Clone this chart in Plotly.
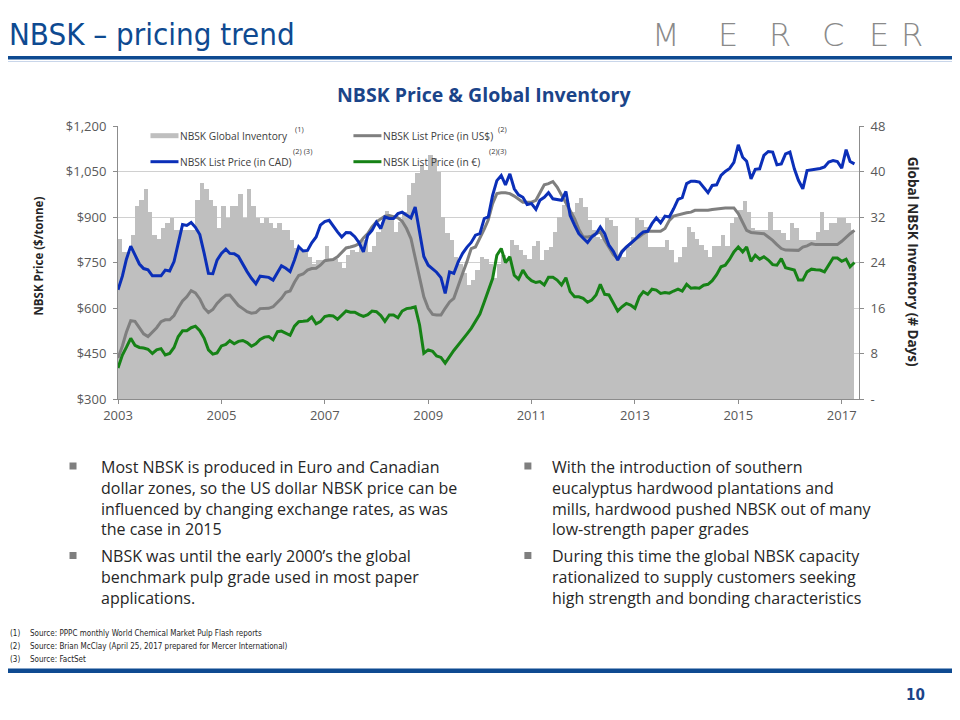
import plotly.graph_objects as go
import pandas as pd

# ---------------- data (monthly from Jan 2003) ----------------
start_month = "2003-01-01"

inventory_days = [
    28.1, 25.9, 25.9, 28.8, 33.9, 35.0, 36.9, 32.9, 28.8, 28.1, 30.0, 31.0,
    31.9, 29.8, 29.8, 29.8, 29.8, 29.8, 35.0, 37.9, 36.9, 35.0, 34.0, 30.0,
    33.9, 31.9, 33.9, 33.9, 36.0, 31.9, 36.9, 33.9, 31.9, 31.0, 31.9, 31.0,
    30.0, 30.9, 29.8, 29.8, 27.9, 26.5, 26.2, 25.9, 25.0, 23.8, 24.4, 24.4,
    26.9, 24.7, 24.7, 24.1, 23.0, 25.3, 26.2, 25.9, 27.9, 27.9, 25.9, 26.9,
    29.4, 31.2, 33.1, 31.5, 29.4, 31.2, 32.9, 35.9, 37.9, 39.7, 41.1, 40.2,
    42.9, 42.3, 40.0, 32.0, 29.2, 27.9, 25.0, 23.8, 22.1, 20.0, 20.9, 22.7,
    25.0, 24.7, 23.8, 21.2, 23.8, 25.3, 24.4, 27.9, 27.0, 26.2, 25.3, 24.7,
    26.9, 27.7, 24.4, 26.2, 26.8, 29.4, 32.0, 34.1, 34.4, 32.9, 34.4, 35.4,
    33.8, 31.5, 29.7, 28.5, 28.2, 31.8, 31.5, 30.4, 25.3, 24.9, 26.8, 28.5,
    31.9, 31.5, 30.3, 26.8, 26.7, 26.8, 26.7, 27.9, 26.2, 24.0, 25.0, 26.8,
    30.2, 29.4, 28.1, 27.1, 26.2, 24.9, 26.9, 26.9, 28.8, 26.9, 30.9, 32.0,
    33.2, 34.9, 32.9, 30.0, 29.7, 29.7, 29.7, 32.9, 29.7, 29.7, 29.1, 27.9,
    30.9, 30.0, 27.9, 27.9, 27.9, 27.9, 29.4, 32.9, 29.8, 30.9, 30.9, 31.8,
    31.8, 30.9, 29.7,
]

price_usd = [
    435, 475, 520, 558, 556, 535, 515, 506, 520, 535, 555, 561,
    561, 575, 600, 623, 637, 657, 650, 630, 600, 585, 595, 615,
    630, 642, 643, 625, 608, 598, 588, 583, 585, 598, 599, 599,
    604, 618, 632, 652, 656, 685, 707, 712, 725, 730, 731, 741,
    756, 758, 760, 769, 785, 798, 801, 805, 812, 831, 845, 867,
    884, 895, 903, 905, 900, 897, 886, 862, 829, 763, 697, 637,
    599, 579, 577, 577, 599, 620, 632, 670, 714, 752, 796, 801,
    829, 860, 890, 944, 977, 980, 980, 977, 969, 960, 949, 949,
    949, 955, 980, 1006, 1010, 1017, 999, 973, 950, 925, 895, 860,
    834, 834, 837, 845, 851, 823, 801, 776, 763, 787, 801, 812,
    827, 835, 845, 853, 853, 853, 853, 862, 889, 903, 907, 911,
    914, 916, 922, 922, 922, 922, 925, 927, 930, 930, 930, 930,
    911, 881, 856, 849, 848, 848, 845, 834, 823, 809, 796, 791,
    791, 790, 790, 801, 805, 812, 809, 809, 809, 809, 809, 809,
    820, 834, 845, 856,
]

price_cad = [
    660, 705, 760, 804, 775, 745, 730, 726, 706, 705, 706, 725,
    722, 753, 812, 875, 872, 882, 866, 842, 780, 714, 713, 758,
    780, 794, 780, 779, 770, 742, 720, 698, 680, 705, 702, 701,
    692, 716, 739, 731, 720, 758, 802, 788, 790, 815, 834, 873,
    885, 889, 870, 851, 834, 849, 848, 835, 815, 785, 840, 856,
    883, 862, 900, 895, 895, 911, 916, 905, 897, 933, 851, 770,
    741, 730, 718, 700, 648, 719, 714, 752, 780, 800, 816, 840,
    845, 895, 900, 971, 1020, 1037, 1006, 1042, 993, 973, 965, 941,
    944, 925, 955, 965, 980, 960, 957, 955, 984, 905, 873, 845,
    830, 816, 834, 845, 867, 845, 807, 787, 758, 785, 801, 812,
    825, 840, 851, 853, 878, 897, 881, 903, 900, 927, 958, 964,
    1010, 1018, 1018, 1015, 999, 980, 1004, 1006, 1037, 1050, 1060, 1080,
    1138, 1097, 1084, 1026, 1057, 1059, 1103, 1116, 1114, 1072, 1075, 1108,
    1114, 1059, 1021, 993, 1053, 1055, 1057, 1060, 1065, 1081, 1086, 1083,
    1061, 1122, 1083, 1075,
]

price_eur = [
    402, 445, 470, 500, 477, 470, 468, 464, 450, 462, 466, 445,
    450, 470, 505, 525, 525, 535, 540, 525, 500, 462, 448, 452,
    475, 480, 492, 482, 490, 493, 486, 474, 482, 496, 504, 506,
    495, 522, 524, 518, 510, 540, 555, 556, 558, 570, 548, 555,
    572, 575, 574, 563, 578, 590, 586, 586, 578, 572, 578, 590,
    588, 575, 556, 577, 577, 568, 590, 598, 600, 604, 544, 451,
    462, 457, 442, 437, 418, 440, 460, 478, 495, 514, 533, 555,
    580, 620, 655, 697, 774, 796, 750, 769, 708, 695, 725, 703,
    690, 684, 687, 676, 701, 701, 692, 676, 700, 654, 637, 637,
    632, 619, 626, 643, 678, 645, 643, 615, 590, 604, 615, 610,
    599, 637, 654, 645, 662, 659, 648, 651, 649, 656, 662, 656,
    678, 665, 667, 665, 675, 678, 690, 710, 736, 741, 761, 785,
    801, 785, 801, 754, 774, 761, 769, 758, 743, 741, 763, 733,
    730, 725, 692, 692, 719, 728, 726, 725, 719, 741, 765, 765,
    754, 761, 736, 750,
]

year_ticks = ["2003", "2005", "2007", "2009", "2011", "2013", "2015", "2017"]
price_ticks = [300, 450, 600, 750, 900, 1050, 1200]
price_tick_text = ["$300", "$450", "$600", "$750", "$900", "$1,050", "$1,200"]
inventory_ticks = [0, 8, 16, 24, 32, 40, 48]
inventory_tick_text = ["-", "8", "16", "24", "32", "40", "48"]

legend_labels = [
    "NBSK Global Inventory",
    "NBSK List Price (in US$)",
    "NBSK List Price (in CAD)",
    "NBSK List Price (in \u20ac)",
]
legend_notes = ["(1)", "(2)", "(2) (3)", "(2)(3)"]

bullets_left = [
    ["Most NBSK is produced in Euro and Canadian",
     "dollar zones, so the US dollar NBSK price can be",
     "influenced by changing exchange rates, as was",
     "the case in 2015"],
    ["NBSK was until the early 2000\u2019s the global",
     "benchmark pulp grade used in most paper",
     "applications."],
]
bullets_right = [
    ["With the introduction of southern",
     "eucalyptus hardwood plantations and",
     "mills, hardwood pushed NBSK out of many",
     "low-strength paper grades"],
    ["During this time the global NBSK capacity",
     "rationalized to supply customers seeking",
     "high strength and bonding characteristics"],
]
footnotes = [
    "Source: PPPC monthly World Chemical Market Pulp Flash reports",
    "Source: Brian McClay (April 25, 2017 prepared for Mercer International)",
    "Source: FactSet",
]

# ---------------- layout constants (screen pixels; page body has an 8px margin) ----------------
OFF = 8
W, H = 960 - OFF, 720 - OFF
PLOT_L, PLOT_R, PLOT_T, PLOT_B = 117.5, 858.7, 126, 399   # screen px
ML = PLOT_L - OFF
MR = W - (PLOT_R - OFF)
MT = PLOT_T - OFF
MB = H - (PLOT_B - OFF)
PW = W - ML - MR
PH = H - MT - MB

def px(x):
    return (x - OFF - ML) / PW

def py(y):
    return (H - MB - (y - OFF)) / PH

BLUE_DARK = "#0E4A91"
NAVY = "#1B4489"
GRAY_BAR = "#BFBFBF"
GRAY_LINE = "#7F7F7F"
CAD_BLUE = "#0B2FB8"
EUR_GREEN = "#168216"
TXT = "#404040"
FONT = "Open Sans"
NARROW = "DejaVu Sans Condensed, Liberation Sans Narrow, sans-serif"

months_all = pd.date_range(start_month, periods=len(price_usd), freq="MS")
months_inv = months_all[: len(inventory_days)]

fig = go.Figure()

fig.add_trace(go.Bar(
    x=months_inv, y=inventory_days, yaxis="y",
    marker=dict(color=GRAY_BAR, line=dict(width=0)),
    offset=0, width=31 * 86400000, name=legend_labels[0],
))
fig.add_trace(go.Scatter(
    x=months_all, y=price_usd, yaxis="y2", mode="lines",
    line=dict(color=GRAY_LINE, width=3), name=legend_labels[1],
))
fig.add_trace(go.Scatter(
    x=months_all, y=price_cad, yaxis="y2", mode="lines",
    line=dict(color=CAD_BLUE, width=3), name=legend_labels[2],
))
fig.add_trace(go.Scatter(
    x=months_all, y=price_eur, yaxis="y2", mode="lines",
    line=dict(color=EUR_GREEN, width=3), name=legend_labels[3],
))

axis_font = dict(family=FONT, size=13, color="#595959")

fig.update_layout(
    width=W, height=H,
    margin=dict(l=ML, r=MR, t=MT, b=MB, autoexpand=False),
    paper_bgcolor="white", plot_bgcolor="white",
    showlegend=False, bargap=0,
    xaxis=dict(
        type="date", range=["2003-01-01", "2017-05-03"],
        tickvals=[f"{y}-01-01" for y in year_ticks], ticktext=year_ticks,
        showgrid=False, showline=True, linecolor="#8C8C8C", linewidth=1,
        ticks="outside", ticklen=4, tickcolor="#8C8C8C",
        tickfont=axis_font, zeroline=False,
    ),
    yaxis=dict(
        side="right", range=[0, 48],
        tickvals=inventory_ticks, ticktext=inventory_tick_text,
        showgrid=True, gridcolor="#D0D0D0", gridwidth=1,
        showline=True, linecolor="#8C8C8C", linewidth=1,
        ticks="outside", ticklen=4, tickcolor="#8C8C8C",
        tickfont=axis_font, zeroline=False, ticklabelstandoff=4,
    ),
    yaxis2=dict(
        side="left", overlaying="y", range=[300, 1200],
        tickvals=price_ticks, ticktext=price_tick_text,
        showgrid=False, showline=True, linecolor="#8C8C8C", linewidth=1,
        ticks="outside", ticklen=4, tickcolor="#8C8C8C",
        tickfont=axis_font, zeroline=False, ticklabelstandoff=4,
    ),
)

shapes = []
ann = []

# top title rule
shapes.append(dict(type="rect", xref="paper", yref="paper", x0=px(0), x1=px(960),
                   y0=py(59.5), y1=py(56), fillcolor=BLUE_DARK, line=dict(width=0), layer="above"))
shapes.append(dict(type="line", xref="paper", yref="paper", x0=px(0), x1=px(960),
                   y0=py(61.5), y1=py(61.5), line=dict(color="#C9D6EA", width=1)))
# bottom rule
shapes.append(dict(type="rect", xref="paper", yref="paper", x0=px(0), x1=px(960),
                   y0=py(673), y1=py(668.5), fillcolor=BLUE_DARK, line=dict(width=0)))

# slide title
ann.append(dict(text="NBSK \u2013 pricing trend", x=px(6), y=py(34), xanchor="left", yanchor="middle",
                font=dict(family=NARROW, size=31, color=BLUE_DARK)))
# logo
for letter, lx in zip("MERCER", [666, 728, 780, 833, 879, 912]):
    ann.append(dict(text=letter, x=px(lx), y=py(35), xanchor="center", yanchor="middle",
                    font=dict(family="DejaVu Sans", size=32, color="#8A8A8A", weight=300)))

# chart title
ann.append(dict(text="<b>NBSK Price & Global Inventory</b>", x=px(484), y=py(94),
                xanchor="center", yanchor="middle",
                font=dict(family=FONT, size=19.5, color=NAVY)))

# axis titles
ann.append(dict(text="<b>NBSK Price ($/tonne)</b>", x=px(37), y=py(256), textangle=-90,
                xanchor="center", yanchor="middle", font=dict(family=FONT, size=11.5, color="#262626")))
ann.append(dict(text="<b>Global NBSK Inventory (# Days)</b>", x=px(913), y=py(262), textangle=90,
                xanchor="center", yanchor="middle", font=dict(family=FONT, size=13.5, color="#262626")))

# legend (manual)
leg_rows = [135.7, 161.7]
leg_cols = [150, 353]
leg_font = dict(family=FONT, size=10.2, color=TXT)
leg_items = [
    (0, 0, GRAY_BAR, 5, (294, 129)),
    (1, 0, GRAY_LINE, 3, (497, 129)),
    (0, 1, CAD_BLUE, 3, (292, 151)),
    (1, 1, EUR_GREEN, 3, (488, 151)),
]
for i, (c, r, col, lw, note_pos) in enumerate(leg_items):
    x0 = leg_cols[c]
    yy = leg_rows[r]
    shapes.append(dict(type="line", xref="paper", yref="paper", x0=px(x0), x1=px(x0 + 28),
                       y0=py(yy), y1=py(yy), line=dict(color=col, width=lw)))
    ann.append(dict(text=legend_labels[i], x=px(x0 + 29), y=py(yy), xanchor="left", yanchor="middle",
                    font=leg_font, borderpad=0))
    ann.append(dict(text=legend_notes[i], x=px(note_pos[0]), y=py(note_pos[1]), xanchor="left",
                    yanchor="middle", font=dict(family=FONT, size=7.5, color=TXT), borderpad=0))

# bullets (one text block per paragraph)
body_font = dict(family=FONT, size=16, color="#262626")
for paras, bx, tx in [(bullets_left, 69, 99), (bullets_right, 524, 551)]:
    for lines, y0 in zip(paras, [466, 555.5]):
        shapes.append(dict(type="rect", xref="paper", yref="paper", x0=px(bx), x1=px(bx + 7),
                           y0=py(y0 + 3.5), y1=py(y0 - 3.5), fillcolor="#7F7F7F", line=dict(width=0)))
        ann.append(dict(text="<br>".join(lines), x=px(tx), y=py(y0 - 11.5), xanchor="left", yanchor="top",
                        align="left", font=body_font, borderpad=0))

# footnotes
for k, (t, fy) in enumerate(zip(footnotes, [633, 646, 659])):
    ann.append(dict(text=f"({k + 1})", x=px(8), y=py(fy), xanchor="left", yanchor="middle",
                    font=dict(family=NARROW, size=8, color="#262626"), borderpad=0))
    ann.append(dict(text=t, x=px(28), y=py(fy), xanchor="left", yanchor="middle",
                    font=dict(family=NARROW, size=8, color="#262626"), borderpad=0))

# page number
ann.append(dict(text="<b>10</b>", x=px(927), y=py(695), xanchor="right", yanchor="middle",
                font=dict(family=NARROW, size=15, color=NAVY)))

for a in ann:
    a.setdefault("xref", "paper")
    a.setdefault("yref", "paper")
    a.setdefault("showarrow", False)

fig.update_layout(shapes=shapes, annotations=ann)

fig.write_html("out.html")
